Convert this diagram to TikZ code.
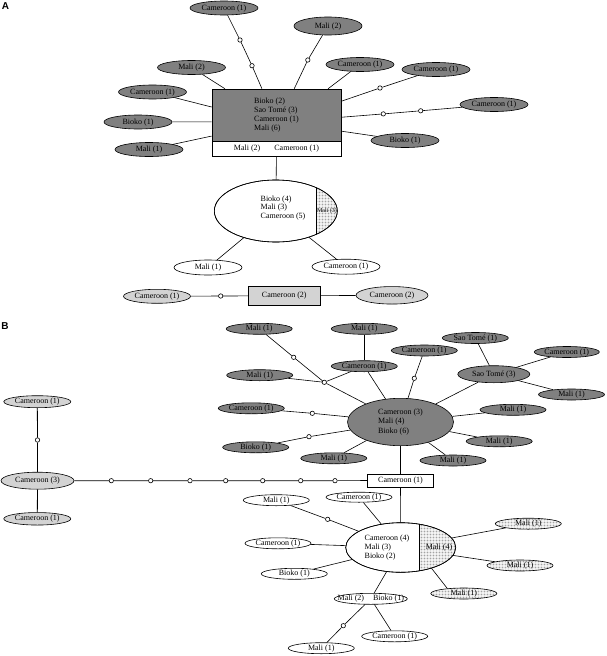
\documentclass[tikz,border=0pt]{standalone}
\usepackage{fontspec}
\setmainfont{Liberation Serif}
\newfontfamily\labfont{Liberation Sans}
\usetikzlibrary{shapes.geometric,patterns.meta}
\definecolor{darkg}{HTML}{808080}
\definecolor{lightg}{HTML}{D3D3D3}
\tikzset{
  txt/.style={font=\fontsize{8}{9}\selectfont, inner sep=0pt, align=left},
  sat/.style={ellipse, draw, line width=0.6pt, inner sep=0pt, text height=5pt, text depth=1pt,
    minimum width=66pt, minimum height=11pt, font=\fontsize{8}{9}\selectfont},
  satd/.style={sat, fill=darkg},
  satl/.style={sat, fill=lightg},
  satw/.style={sat, fill=white},
  stip/.style={pattern={Dots[distance=1.5pt, radius=0.4pt]}, pattern color=black!55},
  satp/.style={sat, stip},
  ring/.style={circle, draw, fill=white, inner sep=0pt, minimum size=4.4pt, line width=0.6pt},
  conn/.style={line width=0.6pt},
  boxs/.style={rectangle, draw, line width=0.6pt, inner sep=0pt, font=\fontsize{8}{9}\selectfont, align=left},
  panel/.style={font=\labfont\bfseries\fontsize{10}{10}\selectfont, inner sep=0pt}
}
\begin{document}
\begin{tikzpicture}[x=1pt,y=-1pt]
\useasboundingbox (0,0) rectangle (606,656);
% ---------------- Panel A ----------------
\node[panel] (labA) at (5.5,6.5) {A};
\node[boxs, fill=darkg, minimum width=129pt, minimum height=52pt] (hubA) at (276.5,115)
  {Bioko (2)\\Sao Tomé (3)\\Cameroon (1)\\Mali (6)};
\node[boxs, fill=white, minimum width=129pt, minimum height=15pt] (hubAw) at (276.5,148.5)
  {Mali (2)\hspace{14pt}Cameroon (1)};
\node[satd, minimum width=68pt, minimum height=14pt] (a1) at (224,8) {Cameroon (1)};
\node[satd, minimum width=68pt, minimum height=14pt] (a2) at (191.5,67.5) {Mali (2)};
\node[satd, minimum width=68pt, minimum height=14pt] (a3) at (152.5,92) {Cameroon (1)};
\node[satd, minimum width=68pt, minimum height=14pt] (a4) at (138,122) {Bioko (1)};
\node[satd, minimum width=68pt, minimum height=14pt] (a5) at (149,149.5) {Mali (1)};
\node[satd, minimum width=68pt, minimum height=18pt] (a6) at (328,26) {Mali (2)};
\node[satd, minimum width=68pt, minimum height=14pt] (a7) at (360,64.5) {Cameroon (1)};
\node[satd, minimum width=68pt, minimum height=14pt] (a8) at (436,69.5) {Cameroon (1)};
\node[satd, minimum width=68pt, minimum height=14pt] (a9) at (494,104.5) {Cameroon (1)};
\node[satd, minimum width=68pt, minimum height=14pt] (a10) at (405,140.5) {Bioko (1)};
\node[ring] (ra1) at (240,40) {};
\node[ring] (ra2) at (252,65.7) {};
\node[ring] (ra3) at (307.8,60) {};
\node[ring] (ra4) at (380,88) {};
\node[ring] (ra5) at (420.7,110.8) {};
\node[ring] (ra6) at (383.3,113.9) {};
\draw[conn] (hubA.119.65) -- (ra2) -- (ra1) -- (a1);
\draw[conn] (hubA.153.65) -- (a2);
\draw[conn] (hubA.173.2) -- (a3);
\draw[conn] (hubA.186.46) -- (a4);
\draw[conn] (hubA.198.03) -- (a5);
\draw[conn] (hubA.56.06) -- (ra3) -- (a6);
\draw[conn] (hubA.27.24) -- (a7);
\draw[conn] (hubA.12.56) -- (ra4) -- (a8);
\draw[conn] (hubA.-2.05) -- (ra6) -- (ra5) -- (a9);
\draw[conn] (hubA.-14) -- (a10);
% big white ellipse A
\node[ellipse, draw, fill=white, line width=0.6pt, inner sep=0pt, minimum width=123pt, minimum height=62pt] (ellA) at (275.8,211) {};
\begin{scope}
  \path[clip] (275.8,211) ellipse [x radius=61.5, y radius=31];
  \fill[stip] (316,170) rectangle (345,250);
  \draw[conn] (316,170) -- (316,250);
\end{scope}
\draw[conn] (275.8,211) ellipse [x radius=61.5, y radius=31];
\node[txt, font=\fontsize{8}{7}\selectfont] (ellAt) at (283,208) {Bioko (4)\\Mali (3)\\Cameroon (5)};
\node[txt, font=\fontsize{6}{6}\selectfont] (ellAm) at (327,211) {Mali (3)};
\node[satw, minimum width=68pt, minimum height=15pt] (a11) at (208,267.5) {Mali (1)};
\node[satw, minimum width=68pt, minimum height=15pt] (a12) at (346,266.7) {Cameroon (1)};
\draw[conn] (hubAw) -- (ellA);
\draw[conn] (ellA) -- (a11);
\draw[conn] (ellA) -- (a12);
% bottom row A
\node[satl, minimum width=67pt, minimum height=14pt] (a13) at (157,296.3) {Cameroon (1)};
\node[ring] (ra7) at (220.7,296) {};
\node[boxs, fill=lightg, minimum width=72pt, minimum height=18.3pt] (rA2) at (284.3,295.8) {Cameroon (2)};
\node[satl, minimum width=72pt, minimum height=17.5pt] (a14) at (392,295.3) {Cameroon (2)};
\draw[conn] (a13) -- (ra7) -- (rA2) -- (a14);
% ---------------- Panel B ----------------
\node[panel] (labB) at (5,326.5) {B};
\node[satl, minimum width=67pt, minimum height=12pt] (b1) at (37.3,401.7) {Cameroon (1)};
\node[ring] (rb1) at (37.5,440) {};
\node[satl, minimum width=73pt, minimum height=17pt] (b2) at (37.5,480.7) {Cameroon (3)};
\node[satl, minimum width=67pt, minimum height=12.5pt] (b3) at (37.3,518.8) {Cameroon (1)};
\draw[line width=0.8pt] (b1) -- (rb1) -- (b2);
\draw[line width=0.8pt] (b2) -- (b3);
\node[ring] (rb2) at (111.3,480.7) {};
\node[ring] (rb3) at (150.7,480.7) {};
\node[ring] (rb4) at (190,480.7) {};
\node[ring] (rb5) at (225.7,480.7) {};
\node[ring] (rb6) at (262.7,480.7) {};
\node[ring] (rb7) at (300.7,480.7) {};
\node[ring] (rb8) at (335,480.7) {};
\node[boxs, fill=white, minimum width=65.6pt, minimum height=12.7pt] (rectB) at (400.5,480.5) {Cameroon (1)};
\draw[conn] (b2) -- (rb2) -- (rb3) -- (rb4) -- (rb5) -- (rb6) -- (rb7) -- (rb8) -- (rectB.west);
% big dark ellipse
\node[ellipse, draw, fill=darkg, line width=0.6pt, inner sep=0pt, minimum width=106pt, minimum height=47.4pt,
  font=\fontsize{8}{9.2}\selectfont, align=left] (bigB) at (400.5,422) {Cameroon (3)\\Mali (4)\\Bioko (6)};
\draw[conn] (rectB) -- (bigB);
\node[satd] (b4) at (259.2,328.8) {Mali (1)};
\node[ring] (rb9) at (293.7,357.3) {};
\node[ring] (rb10) at (324.3,382.3) {};
\node[satd] (b5) at (259.7,375.2) {Mali (1)};
\node[satd] (b6) at (364.3,328.8) {Mali (1)};
\node[satd] (b7) at (364.3,366.2) {Cameroon (1)};
\node[satd] (b8) at (424.3,350.5) {Cameroon (1)};
\node[ring] (rb11) at (414.3,378.3) {};
\node[satd] (b9) at (475.3,338) {Sao Tomé (1)};
\node[satd, minimum width=72pt, minimum height=17pt] (b10) at (493.8,374.2) {Sao Tomé (3)};
\node[satd, minimum width=65pt] (b11) at (566.8,352) {Cameroon (1)};
\node[satd] (b12) at (571.5,394.5) {Mali (1)};
\node[satd] (b13) at (513,409.8) {Mali (1)};
\node[satd] (b14) at (499.2,441.3) {Mali (1)};
\node[satd] (b15) at (453,460.5) {Mali (1)};
\node[satd] (b16) at (333.8,458.3) {Mali (1)};
\node[satd] (b17) at (255.7,447.3) {Bioko (1)};
\node[ring] (rb12) at (309,436.7) {};
\node[satd] (b18) at (251.3,408.3) {Cameroon (1)};
\node[ring] (rb13) at (312.3,413.3) {};
\draw[conn] (b4) -- (rb9) -- (rb10);
\draw[conn] (b5) -- (rb10);
\draw[conn] (rb10) -- (b7);
\draw[conn] (rb10) -- (bigB);
\draw[line width=1pt] (b6) -- (b7);
\draw[conn] (b7) -- (bigB);
\draw[conn] (b8) -- (rb11) -- (bigB);
\draw[conn] (b9) -- (b10);
\draw[conn] (b11) -- (b10);
\draw[conn] (b12) -- (b10);
\draw[conn] (b10) -- (bigB);
\draw[conn] (bigB) -- (b13);
\draw[conn] (bigB) -- (b14);
\draw[conn] (bigB) -- (b15);
\draw[conn] (bigB) -- (b16);
\draw[conn] (bigB) -- (rb12) -- (b17);
\draw[conn] (bigB) -- (rb13) -- (b18);
% white half-dotted ellipse B
\node[ellipse, draw, fill=white, line width=0.6pt, inner sep=0pt, minimum width=110pt, minimum height=49.6pt] (whiteB) at (400.7,547.5) {};
\begin{scope}
  \path[clip] (400.7,547.5) ellipse [x radius=55, y radius=24.8];
  \fill[stip] (419,515) rectangle (460,580);
  \draw[conn] (419,515) -- (419,580);
\end{scope}
\draw[conn] (400.7,547.5) ellipse [x radius=55, y radius=24.8];
\node[txt, font=\fontsize{8}{9.2}\selectfont] (whiteBt) at (387,547.5) {Cameroon (4)\\Mali (3)\\Bioko (2)};
\node[txt] (whiteBm) at (439,547.7) {Mali (4)};
\draw[conn] (rectB) -- (whiteB);
\node[satw] (b19) at (276.3,500.2) {Mali (1)};
\node[ring] (rb14) at (327.7,519.3) {};
\node[satw, minimum height=10pt] (b20) at (359,497.2) {Cameroon (1)};
\node[satw] (b21) at (278,543.3) {Cameroon (1)};
\node[satw] (b22) at (294.3,573.8) {Bioko (1)};
\node[satw, minimum width=73pt] (b23) at (370.8,598.8) {};
\node[txt] (b23t) at (370.8,598.8) {Mali (2)\hspace{9pt}Bioko (1)};
\node[satw] (b24) at (394.7,636.3) {Cameroon (1)};
\node[satw] (b25) at (321.3,648.2) {Mali (1)};
\node[ring] (rb15) at (343.3,625.7) {};
\node[satp] (b26) at (528.3,523.7) {Mali (1)};
\node[satp] (b27) at (520,565.5) {Mali (1)};
\node[satp] (b28) at (463.8,593.5) {Mali (1)};
\draw[conn] (whiteB) -- (rb14) -- (b19);
\draw[conn] (whiteB) -- (b20);
\draw[conn] (whiteB) -- (b21);
\draw[conn] (whiteB) -- (b22);
\draw[conn] (whiteB) -- (b23);
\draw[conn] (b23) -- (b24);
\draw[conn] (b23) -- (rb15) -- (b25);
\draw[conn] (whiteB) -- (b26);
\draw[conn] (whiteB) -- (b27);
\draw[conn] (whiteB.-34.7) -- (b28.163.4);
\end{tikzpicture}
\end{document}
